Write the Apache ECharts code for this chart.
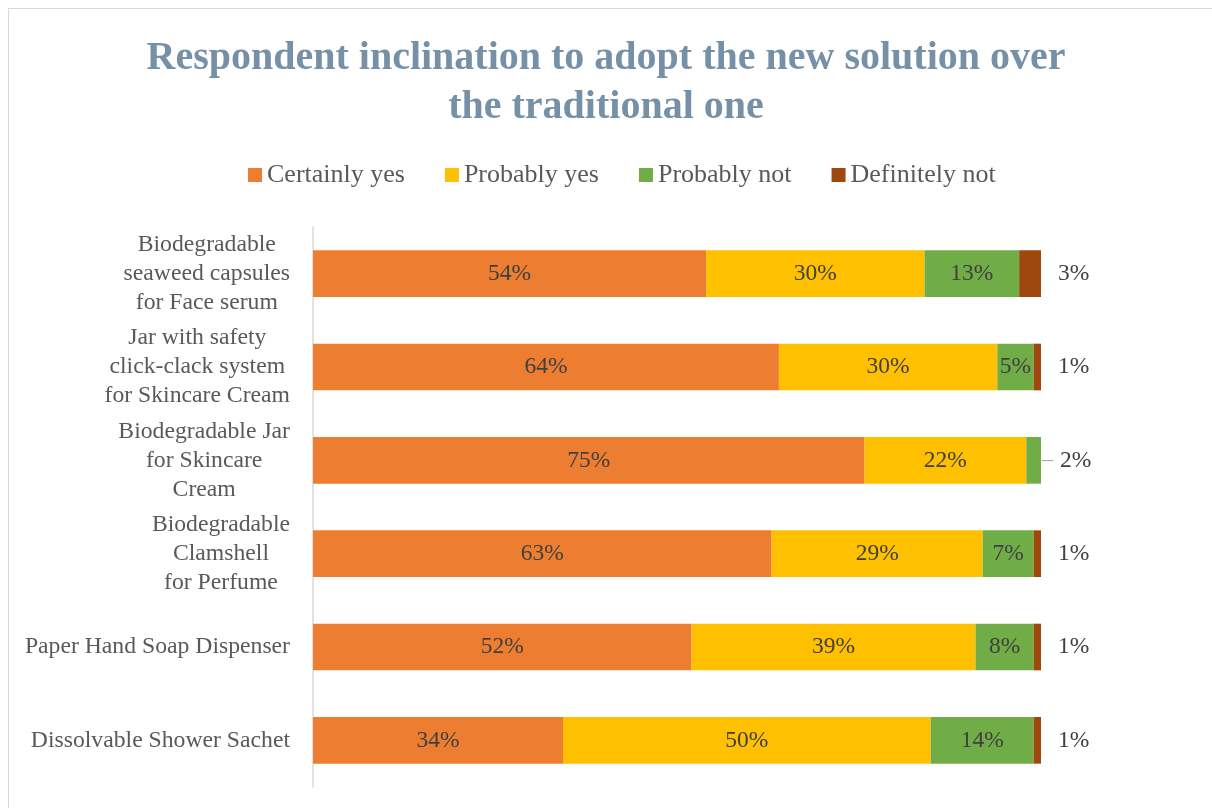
<!DOCTYPE html>
<html>
<head>
<meta charset="utf-8">
<script src="https://cdn.jsdelivr.net/npm/echarts@6/dist/echarts.min.js"></script>
<style>
  html, body { margin: 0; padding: 0; background: #fff; }
  #frame { position: absolute; left: 8px; top: 8px; width: 1212px; height: 808px; border: 1px solid #d9d9d9; box-sizing: border-box; }
  #chart { position: absolute; left: 0; top: 0; width: 1212px; height: 808px; }
</style>
</head>
<body>
<div id="frame"></div>
<div id="chart"></div>
<script>
const categories = [
  'Biodegradable\nseaweed capsules\nfor Face serum',
  'Jar with safety\nclick-clack system\nfor Skincare Cream',
  'Biodegradable Jar\nfor Skincare\nCream',
  'Biodegradable\nClamshell\nfor Perfume',
  'Paper Hand Soap Dispenser',
  'Dissolvable Shower Sachet'
];
const seriesNames = ['Certainly yes', 'Probably yes', 'Probably not', 'Definitely not'];
const certainlyYes  = [54, 64, 75, 63, 52, 34];
const probablyYes   = [30, 30, 22, 29, 39, 50];
const probablyNot   = [13, 5, 2, 7, 8, 14];
const definitelyNot = [3, 1, 0, 1, 1, 1];

const colors = ['#ed7d31', '#ffc000', '#70ad47', '#9e480e'];
const FONT = '"Liberation Serif", "DejaVu Serif", serif';
const all = [certainlyYes, probablyYes, probablyNot, definitelyNot];
const totals = categories.map((_, i) => all.reduce((s, arr) => s + arr[i], 0));

const LBL = 23.5;
const labelBase = { show: true, position: 'inside', color: '#404040', fontFamily: FONT, fontSize: LBL };

function buildData(arr, sIdx) {
  return arr.map((v, i) => {
    const item = { value: v / totals[i] * 100, raw: v };
    if (sIdx === 3) {
      item.label = v > 0
        ? { show: true, position: 'right', distance: 17, color: '#404040', fontFamily: FONT, fontSize: LBL, formatter: v + '%' }
        : { show: false };
    } else if (sIdx === 2 && arr[i] <= 2 && definitelyNot[i] === 0) {
      item.label = {
        show: true, position: 'right', distance: 1,
        formatter: '{l|–}{v|' + v + '%}',
        rich: {
          l: { color: '#a6a6a6', fontFamily: FONT, fontSize: 22, padding: [0, 7, 0, 0] },
          v: { color: '#404040', fontFamily: FONT, fontSize: LBL }
        }
      };
    }
    return item;
  });
}

const series = all.map((arr, sIdx) => ({
  name: seriesNames[sIdx],
  type: 'bar',
  stack: 'total',
  barCategoryGap: '50%',
  itemStyle: { color: colors[sIdx] },
  label: Object.assign({}, labelBase, {
    formatter: p => p.data.raw + '%'
  }),
  data: buildData(arr, sIdx)
}));

const chart = echarts.init(document.getElementById('chart'), null, { renderer: 'canvas' });
chart.setOption({
  animation: false,
  backgroundColor: 'transparent',
  color: colors,
  title: {
    text: 'Respondent inclination to adopt the new solution over\nthe traditional one',
    left: 'center',
    top: 29,
    textStyle: { fontFamily: FONT, fontSize: 40, fontWeight: 'bold', color: '#7590a7', lineHeight: 49 }
  },
  legend: {
    top: 157,
    left: 243,
    itemWidth: 14,
    itemHeight: 14,
    itemGap: 40,
    icon: 'rect',
    textStyle: { fontFamily: FONT, fontSize: 26, color: '#595959' },
    data: seriesNames
  },
  grid: { left: 313, right: 171, top: 227, bottom: 21, containLabel: false },
  xAxis: {
    type: 'value', min: 0, max: 100, show: false
  },
  yAxis: {
    type: 'category',
    inverse: true,
    data: categories,
    axisLine: { show: true, lineStyle: { color: '#d9d9d9', width: 1.5 } },
    axisTick: { show: false },
    axisLabel: {
      margin: 23,
      align: 'right',
      formatter: v => v.split('\n').map(l => '{c|' + l + '}').join('\n'),
      rich: { c: { align: 'center', fontFamily: FONT, fontSize: 23.7, color: '#595959', lineHeight: 29 } }
    }
  },
  series: series
});
</script>
</body>
</html>
